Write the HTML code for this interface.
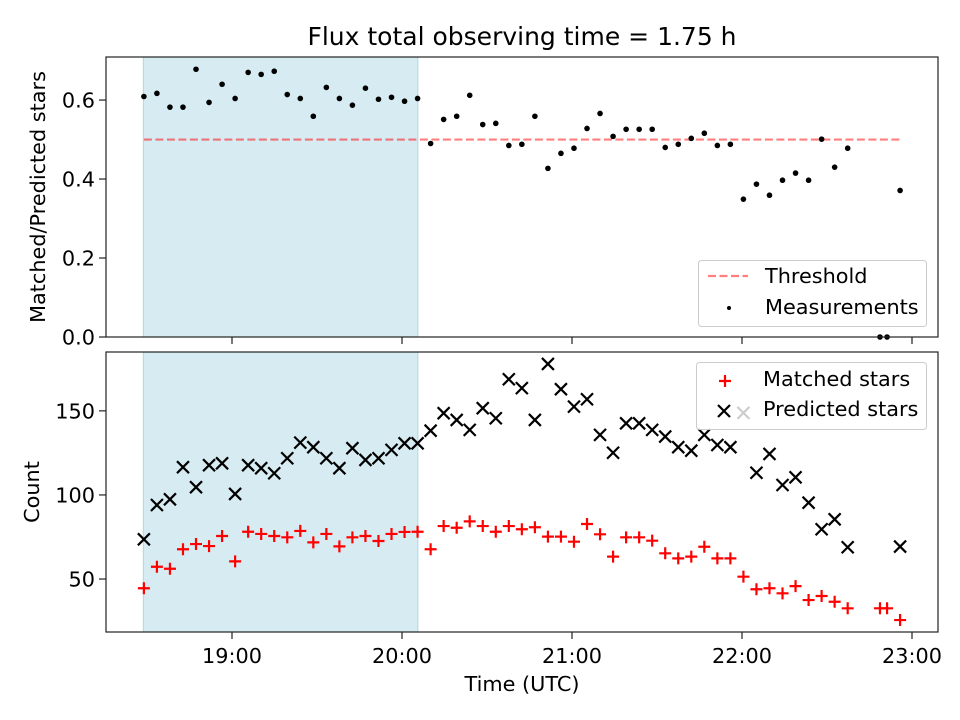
<!DOCTYPE html>
<html><head><meta charset="utf-8"><style>
html,body{margin:0;padding:0;background:#fff}
svg{display:block;font-family:"DejaVu Sans","Liberation Sans",sans-serif}
</style></head><body>
<svg id="chart" width="960" height="720" viewBox="0 0 960 720"></svg>
<script>
const times = [28.9,33.5,38.1,42.7,47.3,51.9,56.5,61.1,65.7,70.3,74.9,79.5,84.1,88.7,93.3,97.9,102.5,107.1,111.7,116.3,120.9,125.5,130.1,134.7,139.3,143.9,148.5,153.1,157.7,162.3,166.9,171.5,176.1,180.7,185.3,189.9,194.5,199.1,203.7,208.3,212.9,217.5,222.1,226.7,231.3,235.9,240.5,245.1,249.7,254.3,258.9,263.5,268.1,272.7,277.3,288.7,291.2,295.8];
const ratio = [.609,.617,.582,.582,.678,.594,.640,.604,.670,.665,.673,.614,.604,.559,.632,.604,.587,.630,.602,.607,.597,.604,
.490,.551,.559,.612,.538,.541,.485,.488,.559,.427,.465,.478,.528,.566,.508,.526,.526,.526,.480,.488,.503,.516,.485,.488,.349,.387,.359,.397,.415,.397,.501,.430,.478,0,0,.371];
const predicted = [73.6,94,97.4,116.5,104.6,117.7,118.8,100.6,117.7,115.9,112.9,121.8,131.1,128.4,121.8,115.9,127.8,120.8,121.8,126.8,130.7,130.7,138.2,148.6,144.6,138.7,151.6,145.6,168.8,163.5,144.6,177.9,
162.9,152.5,156.9,135.7,125.1,142.6,142.6,138.7,134.7,128.4,126.3,135.7,129.7,128.4,148.8,113.2,124.4,105.9,110.5,95.4,79.6,85.5,68.9,null,null,69.3];
const matched = [44.5,57.3,56.1,67.7,70.8,69.6,75.6,60.5,78.1,76.8,75.6,74.8,78.6,71.8,76.8,69.4,74.8,75.6,72.6,76.8,78.0,78.1,67.7,81.5,80.5,84.3,81.5,78.1,81.5,79.6,80.8,75.2,
75.2,72.2,82.7,76.6,63.3,74.8,74.8,72.8,65.3,62.3,63.3,69.2,62.3,62.3,51.4,43.9,44.5,41.5,45.8,37.5,39.9,36.5,32.6,32.6,32.6,25.6];
const xTickLabels = ["19:00","20:00","21:00","22:00","23:00"];
const xTickMinutes = [60,120,180,240,300];
const topTicks = [0.0,0.2,0.4,0.6];
const botTicks = [50,100,150];
const threshold = 0.5;
const shadeStart = 28.7, shadeEnd = 125.6;
const thrStart = 28.9, thrEnd = 295.8;

const NS="http://www.w3.org/2000/svg";
const svg=document.getElementById('chart');
function el(tag,attrs,parent){const e=document.createElementNS(NS,tag);for(const k in attrs)e.setAttribute(k,attrs[k]);(parent||svg).appendChild(e);return e;}
const FS=20.8;
const L=106,R=938;
const xS=m=>232+(m-60)*170/60;
const T={top:57,bot:337,min:0,max:0.709};
const B={top:352,bot:632,min:18.5,max:185};
const yT=v=>T.bot-(v-T.min)/(T.max-T.min)*(T.bot-T.top);
const yB=v=>B.bot-(v-B.min)/(B.max-B.min)*(B.bot-B.top);

function panel(P,name){
  const g=el('g',{});
  
  
  const s=el('rect',{x:xS(shadeStart),y:P.top,width:xS(shadeEnd)-xS(shadeStart),height:P.bot-P.top,fill:'#add8e6','fill-opacity':0.5,stroke:'#add8e6','stroke-width':1},g);
  
  
  return g;
}
function frame(P,g){el('rect',{x:L,y:P.top,width:R-L,height:P.bot-P.top,fill:'none',stroke:'#222','stroke-width':1.2},g);}
function xticks(P,g,labels){
  xTickMinutes.forEach((m,i)=>{
    const x=xS(m);
    el('line',{x1:x,x2:x,y1:P.bot,y2:P.bot+7,stroke:'#222','stroke-width':1.2},g);
    if(labels){const t=el('text',{x:x,y:P.bot+31,'font-size':FS,'text-anchor':'middle'},g);t.textContent=xTickLabels[i];
      
      }
  });
}
function yticks(P,g,ticks,fn,fmt){
  ticks.forEach(v=>{const y=fn(v);el('line',{x1:L-7,x2:L,y1:y,y2:y,stroke:'#222','stroke-width':1.2},g);
    const t=el('text',{x:L-11,y:y+7.5,'font-size':FS,'text-anchor':'end'},g);t.textContent=fmt(v);
    
    });
}
function plus(g,x,y,c,s){el('path',{d:`M${x-s} ${y}H${x+s}M${x} ${y-s}V${y+s}`,stroke:c,'stroke-width':2.2},g);}
function cross(g,x,y,c,s){el('path',{d:`M${x-s} ${y-s}L${x+s} ${y+s}M${x-s} ${y+s}L${x+s} ${y-s}`,stroke:c,'stroke-width':2.2},g);}

// Top panel
const gt=panel(T,'ratio-panel');
const thr=el('line',{x1:xS(thrStart),x2:xS(thrEnd),y1:yT(threshold),y2:yT(threshold),stroke:'#ff0000','stroke-opacity':0.5,'stroke-width':2.2,'stroke-dasharray':'8,3.5'},gt);


times.forEach((m,i)=>{const c=el('circle',{cx:xS(m),cy:yT(ratio[i]),r:2.8,fill:'#000'},gt);
  
  });
frame(T,gt);xticks(T,gt,false);yticks(T,gt,topTicks,yT,v=>v.toFixed(1));
const lt=el('g',{},gt);


el('rect',{x:698.5,y:260.5,width:228,height:66,rx:3,fill:'#fff','fill-opacity':0.8,stroke:'#ccc'},lt);
el('line',{x1:708,x2:748,y1:276,y2:276,stroke:'#ff0000','stroke-opacity':0.5,'stroke-width':2.2,'stroke-dasharray':'8,3.5'},lt);
let t=el('text',{x:765,y:283,'font-size':FS},lt);t.textContent='Threshold';
el('circle',{cx:729,cy:308,r:2,fill:'#000'},lt);
t=el('text',{x:765,y:314,'font-size':FS},lt);t.textContent='Measurements';
t=el('text',{x:0,y:0,'font-size':FS,'text-anchor':'middle',transform:`translate(45,${(T.top+T.bot)/2}) rotate(-90)`});t.textContent='Matched/Predicted stars';



// Bottom panel
const gb=panel(B,'count-panel');
times.forEach((m,i)=>{if(matched[i]!=null)plus(gb,xS(m),yB(matched[i]),'#ff0000',6);});
times.forEach((m,i)=>{if(predicted[i]!=null)cross(gb,xS(m),yB(predicted[i]),'#000',6);});
frame(B,gb);xticks(B,gb,true);yticks(B,gb,botTicks,yB,v=>String(v));
const lb=el('g',{},gb);


el('rect',{x:696.5,y:362.5,width:230,height:67,rx:3,fill:'#fff','fill-opacity':0.8,stroke:'#ccc'},lb);
plus(lb,725,381,'#ff0000',6);
t=el('text',{x:763,y:386,'font-size':FS},lb);t.textContent='Matched stars';
cross(lb,724,411,'#000',6);
t=el('text',{x:763,y:416,'font-size':FS},lb);t.textContent='Predicted stars';
t=el('text',{x:0,y:0,'font-size':FS,'text-anchor':'middle',transform:`translate(39,${(B.top+B.bot)/2}) rotate(-90)`});t.textContent='Count';


t=el('text',{x:522,y:691,'font-size':FS,'text-anchor':'middle'});t.textContent='Time (UTC)';


t=el('text',{x:522,y:45,'font-size':25,'text-anchor':'middle'});t.textContent='Flux total observing time = 1.75 h';


</script>
</body></html>
